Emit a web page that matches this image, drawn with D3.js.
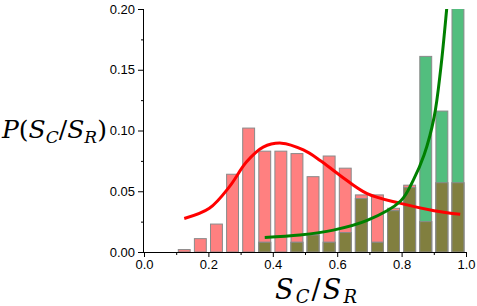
<!DOCTYPE html>
<html>
<head>
<meta charset="utf-8">
<script src="https://cdn.jsdelivr.net/npm/d3@7"></script>
<style>
  body { margin: 0; background: #fff; }
  svg { display: block; }
  .tick text { font-family: "Liberation Sans", Arial, sans-serif; font-size: 13px; fill: #000; }
  .title { font-family: "DejaVu Serif", "Liberation Serif", serif; font-style: italic; fill: #000; }
</style>
</head>
<body>
<script>
// histogram bins (left edges), width 0.05
const binStarts = [0.10, 0.15, 0.20, 0.25, 0.30, 0.35, 0.40, 0.45, 0.50, 0.55,
                   0.60, 0.65, 0.70, 0.75, 0.80, 0.85, 0.90, 0.95];
const binWidth = 0.05;
const redValues = [0.002, 0.011, 0.023, 0.064, 0.102, 0.083, 0.083, 0.081, 0.062, 0.079,
                   0.069, 0.047, 0.047, 0.036, 0.055, 0.025, 0.057, 0.057];
const greenValues = [0, 0, 0, 0, 0, 0.008, 0, 0.008, 0.014, 0.008,
                     0.016, 0.044, 0.008, 0.034, 0.053, 0.161, 0.116, 0.24];

// fitted curves, points
const redCurveX = [0.125, 0.203, 0.266, 0.318, 0.370, 0.427, 0.495, 0.547, 0.609, 0.693, 0.797, 0.901, 0.982];
const redCurveY = [0.0276, 0.036, 0.054, 0.074, 0.0863, 0.0896, 0.084, 0.0754, 0.063, 0.048, 0.040, 0.034, 0.031];
const greenCurveX = [0.375, 0.484, 0.588, 0.693, 0.797, 0.836, 0.870, 0.901, 0.922, 0.940, 0.950];
const greenCurveY = [0.012, 0.014, 0.018, 0.026, 0.042, 0.059, 0.080, 0.111, 0.152, 0.200, 0.230];

const xTicks = [0.0, 0.2, 0.4, 0.6, 0.8, 1.0];
const yTicks = [0.00, 0.05, 0.10, 0.15, 0.20];

const width = 477, height = 306;
const margin = { top: 9, right: 11, bottom: 54, left: 144 };

const svg = d3.select("body").append("svg")
    .attr("width", width)
    .attr("height", height);

const x = d3.scaleLinear().domain([0, 1]).range([margin.left, width - margin.right]);
const y = d3.scaleLinear().domain([0, 0.20]).range([height - margin.bottom, margin.top]);

svg.append("clipPath").attr("id", "plot")
    .append("rect")
    .attr("x", x(0)).attr("y", y(0.20))
    .attr("width", x(1) - x(0)).attr("height", y(0) - y(0.20));

const bins = binStarts.map((b, i) => ({ x0: b, red: redValues[i], green: greenValues[i] }));
const gap = 0.0065;

const plot = svg.append("g").attr("clip-path", "url(#plot)");

function bars(cls, color, val) {
    plot.append("g").selectAll("rect")
        .data(bins.filter(d => val(d) > 0))
        .join("rect")
        .attr("class", cls)
        .attr("x", d => x(d.x0 + gap))
        .attr("width", d => x(d.x0 + binWidth - gap) - x(d.x0 + gap))
        .attr("y", d => y(val(d)))
        .attr("height", d => y(0) - y(val(d)))
        .attr("fill", color)
        .attr("stroke", "#8a8a8a")
        .attr("stroke-width", 1);
}
bars("red", "#ff8080", d => d.red);
bars("green", "#52be7e", d => d.green);
bars("both", "#817f3f", d => Math.min(d.red, d.green));

const line = d3.line().x(d => x(d[0])).y(d => y(d[1])).curve(d3.curveCatmullRom);

plot.append("path")
    .datum(d3.zip(redCurveX, redCurveY))
    .attr("d", line)
    .attr("fill", "none")
    .attr("stroke", "#ff0000")
    .attr("stroke-width", 3);

plot.append("path")
    .datum(d3.zip(greenCurveX, greenCurveY))
    .attr("d", line)
    .attr("fill", "none")
    .attr("stroke", "#008000")
    .attr("stroke-width", 3);

// axes
const xAxis = svg.append("g")
    .attr("transform", "translate(0," + y(0) + ")")
    .call(d3.axisBottom(x).tickValues(xTicks).tickFormat(d3.format(".1f")).tickSize(5).tickPadding(3));
svg.append("g")
    .attr("transform", "translate(0," + y(0) + ")")
    .call(d3.axisBottom(x).tickValues([0.1, 0.3, 0.5, 0.7, 0.9]).tickFormat("").tickSize(3))
    .select(".domain").remove();

const yAxis = svg.append("g")
    .attr("transform", "translate(" + x(0) + ",0)")
    .call(d3.axisLeft(y).tickValues(yTicks).tickFormat(d3.format(".2f")).tickSize(6).tickPadding(3));
svg.append("g")
    .attr("transform", "translate(" + x(0) + ",0)")
    .call(d3.axisLeft(y).tickValues([0.025, 0.075, 0.125, 0.175]).tickFormat("").tickSize(3))
    .select(".domain").remove();

xAxis.select(".domain").attr("stroke", "#000").attr("d", "M" + (x(0) - 4) + ",0.5H" + x(1));
yAxis.select(".domain").attr("stroke", "#000").attr("d", "M-0.5," + y(0) + "V" + y(0.20));
svg.selectAll(".tick line").attr("stroke", "#000");

// titles
const yt = svg.append("text").attr("class", "title")
    .attr("x", 2).attr("y", 138).style("font-size", "25px");
yt.append("tspan").text("P");
yt.append("tspan").style("font-style", "normal").text("(");
yt.append("tspan").text("S");
yt.append("tspan").attr("dy", 5).style("font-size", "17px").text("C");
yt.append("tspan").attr("dy", -5).style("font-style", "normal").text("/");
yt.append("tspan").text("S");
yt.append("tspan").attr("dy", 5).style("font-size", "17px").text("R");
yt.append("tspan").attr("dy", -5).style("font-style", "normal").text(")");

const xt = svg.append("text").attr("class", "title")
    .attr("x", 275).attr("y", 299).style("font-size", "27px")
    .attr("textLength", 82).attr("lengthAdjust", "spacing");
xt.append("tspan").text("S");
xt.append("tspan").attr("dy", 4).style("font-size", "18px").text("C");
xt.append("tspan").attr("dy", -4).style("font-style", "normal").text("/");
xt.append("tspan").text("S");
xt.append("tspan").attr("dy", 4).style("font-size", "18px").text("R");
</script>
</body>
</html>
